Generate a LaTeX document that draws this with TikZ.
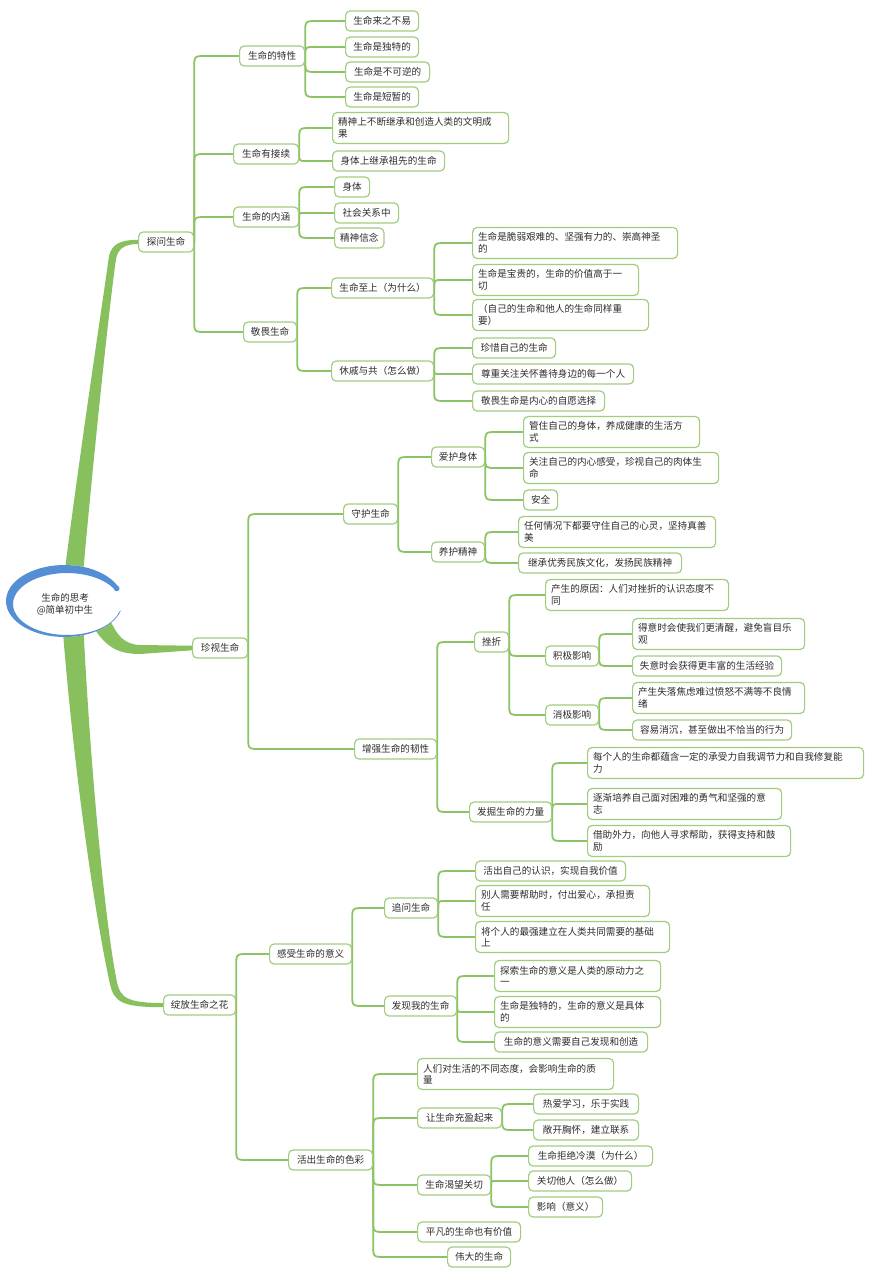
\documentclass[tikz,border=0pt]{standalone}
\usepackage{fontspec}
\newfontfamily\cjk{Noto Sans CJK SC}
\usetikzlibrary{calc,backgrounds}
\definecolor{conngreen}{RGB}{140,195,100}
\definecolor{thickgreen}{RGB}{135,192,92}
\definecolor{boxgreen}{RGB}{160,205,128}
\definecolor{txt}{RGB}{45,45,45}
\definecolor{rootblue}{RGB}{84,142,212}
\tikzset{
  box/.style={draw=boxgreen, line width=1.2pt, rounded corners=4.5pt, fill=white,
    inner xsep=5.5pt, inner ysep=0pt, anchor=west,
    font=\cjk\fontsize{9.6}{11.6}\selectfont, text=txt, minimum height=20pt},
  boxtwo/.style={box, align=left, minimum height=31pt},
  conn/.style={draw=conngreen, line width=1.8pt, line cap=round},
  branch/.style={fill=thickgreen},
}
\newcommand\nd[5]{\node[box, minimum width=#4pt] (#1) at (#2,#3) {#5};}
\newcommand\ndd[6]{\node[boxtwo, text width=#4pt] (#1) at (#2,#3) {#5\\#6};}
\newcommand\lk[2]{\draw[conn] let \p1=(#1.east), \p2=(#2.west), \n1={min(12pt,abs(\y2-\y1))} in
  (\p1) -- ($(\x1,\y2)!\n1!(\p1)$) .. controls (\x1,\y2) .. ($(\x1,\y2)!\n1!(\p2)$) -- (\p2);}
\newcommand\lks[2]{\foreach \kid in {#2}{\lk{#1}{\kid}}}
\begin{document}
\begin{tikzpicture}[x=1pt,y=-1pt]
\useasboundingbox (0,0) rectangle (873,1280);
% level 1
\nd{tw}{138}{242}{55}{探问生命}
\nd{zs}{192}{648}{55}{珍视生命}
\nd{zf}{163}{1005}{72}{绽放生命之花}
% 探问生命
\nd{a1}{239}{56}{65}{生命的特性}
\nd{a11}{345}{21}{73}{生命来之不易}
\nd{a12}{345}{47}{73}{生命是独特的}
\nd{a13}{345}{72}{84}{生命是不可逆的}
\nd{a14}{345}{97}{73}{生命是短暂的}
\nd{a2}{233}{154}{65}{生命有接续}
\ndd{a21}{332}{128}{165}{精神上不断继承和创造人类的文明成}{果}
\nd{a22}{332}{161}{112}{身体上继承祖先的生命}
\nd{a3}{233}{217}{65}{生命的内涵}
\nd{a31}{334}{187}{35}{身体}
\nd{a32}{334}{213}{64}{社会关系中}
\nd{a33}{334}{238}{45}{精神信念}
\nd{a4}{243}{332}{53}{敬畏生命}
\nd{a41}{331}{288}{102}{生命至上（为什么）}
\ndd{a411}{472}{243}{194}{生命是脆弱艰难的、坚强有力的、崇高神圣}{的}
\ndd{a412}{472}{280}{155}{生命是宝贵的，生命的价值高于一}{切}
\ndd{a413}{472}{315}{165}{（自己的生命和他人的生命同样重}{要）}
\nd{a42}{331}{371}{102}{休戚与共（怎么做）}
\nd{a421}{472}{348}{83}{珍惜自己的生命}
\nd{a422}{472}{374}{161}{尊重关注关怀善待身边的每一个人}
\nd{a423}{472}{401}{132}{敬畏生命是内心的自愿选择}
% 珍视生命
\nd{b1}{343}{514}{54}{守护生命}
\nd{b11}{431}{457}{53}{爱护身体}
\ndd{b111}{523}{432}{165}{管住自己的身体，养成健康的生活方}{式}
\ndd{b112}{523}{468}{184}{关注自己的内心感受，珍视自己的肉体生}{命}
\nd{b113}{523}{500}{34}{安全}
\nd{b12}{431}{552}{53}{养护精神}
\ndd{b121}{518}{532}{186}{任何情况下都要守住自己的心灵，坚持真善}{美}
\nd{b122}{518}{563}{163}{继承优秀民族文化，发扬民族精神}
\nd{b2}{354}{749}{82}{增强生命的韧性}
\nd{b21}{474}{642}{34}{挫折}
\ndd{b211}{545}{595}{172}{产生的原因：人们对挫折的认识态度不}{同}
\nd{b212}{545}{656}{53}{积极影响}
\ndd{b2121}{632}{634}{161}{得意时会使我们更清醒，避免盲目乐}{观}
\nd{b2122}{632}{666}{149}{失意时会获得更丰富的生活经验}
\nd{b213}{545}{715}{53}{消极影响}
\ndd{b2131}{632}{698}{161}{产生失落焦虑难过愤怒不满等不良情}{绪}
\nd{b2132}{632}{730}{159}{容易消沉，甚至做出不恰当的行为}
\nd{b22}{469}{812}{82}{发掘生命的力量}
\ndd{b221}{587}{763}{265}{每个人的生命都蕴含一定的承受力自我调节力和自我修复能}{力}
\ndd{b222}{587}{804}{183}{逐渐培养自己面对困难的勇气和坚强的意}{志}
\ndd{b223}{587}{841}{192}{借助外力，向他人寻求帮助，获得支持和鼓}{励}
% 绽放生命之花
\nd{c1}{269}{954}{82}{感受生命的意义}
\nd{c11}{384}{908}{53}{追问生命}
\nd{c111}{475}{871}{150}{活出自己的认识，实现自我价值}
\ndd{c112}{475}{901}{163}{别人需要帮助时，付出爱心，承担责}{任}
\ndd{c113}{475}{937}{183}{将个人的最强建立在人类共同需要的基础}{上}
\nd{c12}{384}{1006}{72}{发现我的生命}
\ndd{c121}{494}{976}{155}{探索生命的意义是人类的原动力之}{一}
\ndd{c122}{494}{1012}{155}{生命是独特的，生命的意义是具体}{的}
\nd{c123}{494}{1042}{153}{生命的意义需要自己发现和创造}
\nd{c2}{288}{1160}{84}{活出生命的色彩}
\ndd{c21}{417}{1074}{185}{人们对生活的不同态度，会影响生命的质}{量}
\nd{c22}{417}{1118}{84}{让生命充盈起来}
\nd{c221}{533}{1104}{105}{热爱学习，乐于实践}
\nd{c222}{533}{1130}{105}{敞开胸怀，建立联系}
\nd{c23}{417}{1185}{73}{生命渴望关切}
\nd{c231}{528}{1156}{124}{生命拒绝冷漠（为什么）}
\nd{c232}{528}{1181}{103}{关切他人（怎么做）}
\nd{c233}{528}{1207}{74}{影响（意义）}
\nd{c24}{417}{1232}{103}{平凡的生命也有价值}
\nd{c25}{447}{1257}{63}{伟大的生命}
% root
\fill[white] (64.5,601) ellipse[x radius=58.5, y radius=36];
\fill[rootblue] ($(64.5,601)+(15:58.5 and 36)$) arc[start angle=15,end angle=335,x radius=58.5,y radius=36]
  -- ($(67,604)+(335:54 and 31)$) arc[start angle=335,end angle=15,x radius=54,y radius=31] -- cycle;
\fill[rootblue] (116.7,588.4) circle[radius=2.8];
\node[font=\cjk\fontsize{9.5}{12}\selectfont, align=center, text=txt] (root) at (65,604) {生命的思考\\@简单初中生};
\begin{scope}[on background layer]
\fill[white] (0,0) rectangle (873,1280);
% thick branches
\fill[branch] (63,585) .. controls (80,450) and (103,300) .. (109,256) .. controls (112,244) and (120,240) .. ($(tw.west)+(0,-2.2)$)
  -- ($(tw.west)+(0,2)$) .. controls (124,244) and (118,249) .. (116,259) .. controls (110,300) and (94,450) .. (82,585) -- cycle;
\fill[branch] (90,622) .. controls (104,645) and (115,654) .. (140,654) -- ($(zs.west)+(0,2.3)$)
  -- ($(zs.west)+(0,-2.3)$) -- (140,645) .. controls (124,644.5) and (117,635) .. (110,620) -- cycle;
\fill[branch] (62,620) .. controls (76,800) and (100,940) .. (110,984) .. controls (114,1002) and (122,1007.2) .. ($(zf.west)+(0,2.2)$)
  -- ($(zf.west)+(0,-2)$) .. controls (128,1003) and (120,998) .. (117,982) .. controls (108,940) and (92,800) .. (83,620) -- cycle;
% connectors
\lks{tw}{a1,a2,a3,a4}
\lks{a1}{a11,a12,a13,a14}
\lks{a2}{a21,a22}
\lks{a3}{a31,a32,a33}
\lks{a4}{a41,a42}
\lks{a41}{a411,a412,a413}
\lks{a42}{a421,a422,a423}
\lks{zs}{b1,b2}
\lks{b1}{b11,b12}
\lks{b11}{b111,b112,b113}
\lks{b12}{b121,b122}
\lks{b2}{b21,b22}
\lks{b21}{b211,b212,b213}
\lks{b212}{b2121,b2122}
\lks{b213}{b2131,b2132}
\lks{b22}{b221,b222,b223}
\lks{zf}{c1,c2}
\lks{c1}{c11,c12}
\lks{c11}{c111,c112,c113}
\lks{c12}{c121,c122,c123}
\lks{c2}{c21,c22,c23,c24,c25}
\lks{c22}{c221,c222}
\lks{c23}{c231,c232,c233}
\end{scope}
\end{tikzpicture}
\end{document}
